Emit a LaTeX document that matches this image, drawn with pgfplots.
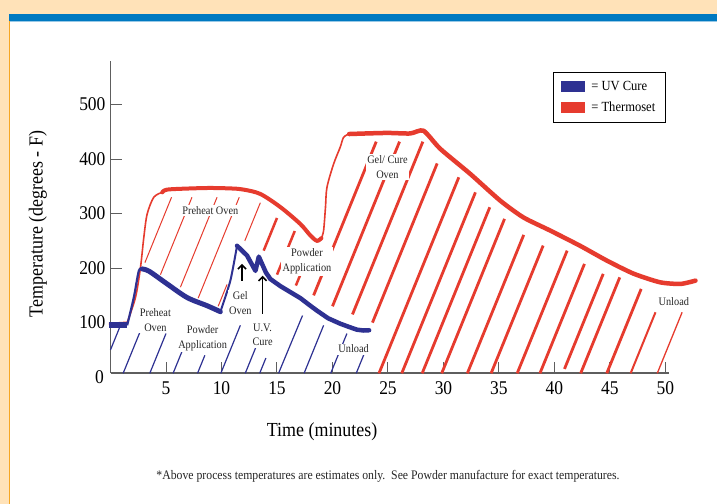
\documentclass[border=0pt]{standalone}
\usepackage{pgfplots}
\pgfplotsset{compat=1.18}
\usepackage{fontspec}
\setmainfont{Liberation Serif}[FakeStretch=0.9]
\usetikzlibrary{arrows.meta}
\definecolor{peach}{HTML}{FFE2B8}
\definecolor{topblue}{HTML}{0079C1}
\definecolor{edgeorange}{HTML}{F6A623}
\definecolor{uvblue}{HTML}{2E3192}
\definecolor{thred}{HTML}{E63B2E}
\definecolor{axgray}{HTML}{5E5E5E}
\tikzset{lbl/.style={fill=white, inner sep=1.5bp, align=center, font=\fontsize{11.5}{15}\selectfont, text=black!85}}
\begin{document}
\begin{tikzpicture}[x=1bp,y=1bp]
\path[use as bounding box] (0,0) rectangle (717,504);
\fill[peach] (0,0) rectangle (717,504);
\fill[white] (9,0) rectangle (717,483);
\fill[topblue] (9,483) rectangle (717,490.3);
\fill[topblue!40] (9,482) rectangle (717,483);
\fill[edgeorange] (9,0) rectangle (10.2,483);
\begin{axis}[
  at={(110.5bp,130.7bp)}, anchor=south west,
  scale only axis, width=558.3bp, height=312.3bp,
  xmin=0, xmax=50.3, ymin=7, ymax=580,
  clip=false,
  axis lines*=left,
  axis line style={axgray, line width=1.8bp},
  tick align=inside,
  major tick length=11bp,
  tick style={axgray, line width=1bp},
  xtick={5,10,...,50}, ytick={100,200,...,500},
  ticklabel style={font=\fontsize{19.5}{20}\selectfont, /pgf/number format/assume math mode=true},
  xticklabel style={yshift=-5bp},
  yticklabel style={xshift=-1.5bp},
  xlabel={Time (minutes)},
  xlabel style={at={(axis description cs:0.379,-0.188)}, anchor=center, font=\fontsize{20}{20}\selectfont},
  ylabel={Temperature (degrees - F)},
  ylabel style={at={(axis description cs:-0.13,0.478)}, anchor=center, font=\fontsize{20}{20}\selectfont},
  legend style={at={(0.7925,0.9648)}, anchor=north west, draw=black, line width=0.8bp,
    inner xsep=8bp, inner ysep=7bp, row sep=6bp, column sep=4bp, font=\fontsize{14}{14}\selectfont},
  legend cell align=left,
  legend image code/.code={\fill[#1, draw=none] (0bp,-5.75bp) rectangle (24bp,5.75bp);},
]
\addlegendimage{fill=uvblue, draw=none}
\addlegendentry{= UV Cure}
\addlegendimage{fill=thred, draw=none}
\addlegendentry{= Thermoset}

% blue hatching
\addplot[uvblue, line width=1.2bp, unbounded coords=jump] coordinates {
(0,50) (0.9,95) (0,nan)
(1.14,7) (2.7,85) (0,nan)
(3.54,7) (5.0,80) (0,nan)
(5.64,7) (6.8,65) (0,nan)
(7.84,7) (8.5,40) (0,nan)
(9.94,7) (11.7,95) (0,nan)
(12.14,7) (14.0,100) (0,nan)
(13.44,7) (14.0,35) (0,nan)
(15.14,7) (17.3,113) (0,nan)
(17.44,7) (19.2,95) (0,nan)
(19.84,7) (21.3,80) (0,nan)
(22.14,7) (23.2,60)
};

% red hatching thin left
\addplot[thred, line width=1bp, unbounded coords=jump] coordinates {
(3.1,210) (5.5,330) (0,nan)
(4.5,188) (7.34,330) (0,nan)
(6.3,165) (9.6,330) (0,nan)
(7.9,145) (11.6,330) (0,nan)
(9.7,130) (10.5,170) (0,nan)
(12.1,250) (13.5,320)
};
% red hatching medium
\addplot[thred, line width=2.5bp, unbounded coords=jump] coordinates {
(13.8,232) (15.0,292) (0,nan)
(15.0,188) (16.6,268) (0,nan)
(16.7,168) (17.8,222)
};
% red hatching thick
\addplot[thred, line width=2.8bp, unbounded coords=jump] coordinates {
(18.3,150) (23.94,432) (0,nan)
(20.0,130) (26.04,432) (0,nan)
(21.8,115) (28.14,432) (0,nan)
(23.6,100) (29.43,392) (0,nan)
(24.19,7) (31.38,366.6) (0,nan)
(26.24,7) (32.88,339) (0,nan)
(28.08,7) (34.17,311.6) (0,nan)
(29.84,7) (35.5,290.3) (0,nan)
(32.15,7) (37.23,261) (0,nan)
(34.29,7) (38.98,241.3) (0,nan)
(36.64,7) (41.14,232) (0,nan)
(38.69,7) (42.7,207.7) (0,nan)
(40.9,15) (44.39,189.4) (0,nan)
(42.36,7) (45.88,183) (0,nan)
(44.71,7) (47.81,161.8)
};
\addplot[thred, line width=2bp] coordinates {(46.86,7) (49.1,119)};
\addplot[thred, line width=1.3bp] coordinates {(49.26,7) (51.5,119)};

% red curve (Thermoset)
\addplot[thred, line width=2.2bp] coordinates {(-0.15,98) (1.5,100)};
\addplot[thred, line width=1.6bp, smooth, tension=0.5] coordinates {
(1.5,100) (2.25,146) (2.7,201) (3.0,256) (3.3,299) (3.9,330) (4.66,339)};
\addplot[thred, line width=4bp, smooth, tension=0.5, line cap=round] coordinates {
(4.66,339) (5.1,344) (7,346) (9,347) (11,346) (12,344) (13.5,336) (15.3,312) (17.1,281) (18.0,260) (18.6,250) (19.0,255)};
\addplot[thred, line width=1.6bp, smooth, tension=0.5] coordinates {
(19.0,255) (19.2,269) (19.37,312) (19.5,348) (20.1,391) (20.7,422) (21.0,440) (21.5,446)};
\addplot[thred, line width=4.5bp, smooth, tension=0.4, line cap=round, line join=round] coordinates {
(21.5,446) (23,447) (25,448) (27,447) (28.2,452) (29.7,419) (32.4,373) (35.1,324) (37.2,293) (39.6,269) (42.3,241) (44.7,214) (47.1,190) (49.5,174) (51.35,171) (52.7,177)};

% blue curve (UV Cure)
\addplot[uvblue, line width=6bp] coordinates {(-0.15,95) (1.5,95)};
\addplot[uvblue, line width=2.2bp, smooth, tension=0.5] coordinates {(1.5,95) (2.1,146) (2.55,195) (2.86,198.5)};
\addplot[uvblue, line width=5bp, smooth, tension=0.5, line cap=round] coordinates {
(2.86,198.5) (3.5,194) (5.1,171) (6.9,146) (8.7,131) (9.9,120)};
\addplot[uvblue, line width=2bp, smooth, tension=0.4] coordinates {(9.9,120) (10.8,177) (11.4,241)};
\addplot[uvblue, line width=4.5bp, line join=round, line cap=round] coordinates {
(11.4,241) (12.3,223) (13.06,195) (13.36,221) (14.0,192) (14.4,180) (15.3,167) (16.2,156) (17.1,145) (18.0,131) (18.6,122) (19.6,108) (20.7,98) (21.5,92) (22.2,87) (22.8,85.5) (23.3,86)};

% arrows
\draw[-{Straight Barb[length=4bp,width=8bp]}, line width=1.6bp] (axis cs:11.85,177) -- (axis cs:11.85,207.7);
\draw[-{Straight Barb[length=4bp,width=8bp]}, line width=1.6bp] (axis cs:13.7,116) -- (axis cs:13.7,186);

% labels
\node[lbl] at (axis cs:9.0,305.5) {Preheat Oven};
\node[lbl] at (axis cs:4.05,105) {Preheat\\Oven};
\node[lbl] at (axis cs:8.3,71.5) {Powder\\Application};
\node[lbl] at (axis cs:11.7,136) {Gel\\Oven};
\node[lbl] at (axis cs:13.7,77.6) {U.V.\\Cure};
\node[lbl] at (axis cs:21.9,51.5) {Unload};
\node[lbl] at (axis cs:17.7,212) {Powder\\Application};
\node[lbl] at (axis cs:24.95,385.7) {Gel/ Cure\\Oven};
\node[lbl] at (axis cs:50.75,138.5) {Unload};
\node[anchor=east, font=\fontsize{19.5}{20}\selectfont, inner sep=6.5bp] at (axis cs:0,0) {0};
\end{axis}
\node[font=\fontsize{13.1}{13}\selectfont, text=black!85] at (388,28) {*Above process temperatures are estimates only.\ \ See Powder manufacture for exact temperatures.};
\end{tikzpicture}
\end{document}
